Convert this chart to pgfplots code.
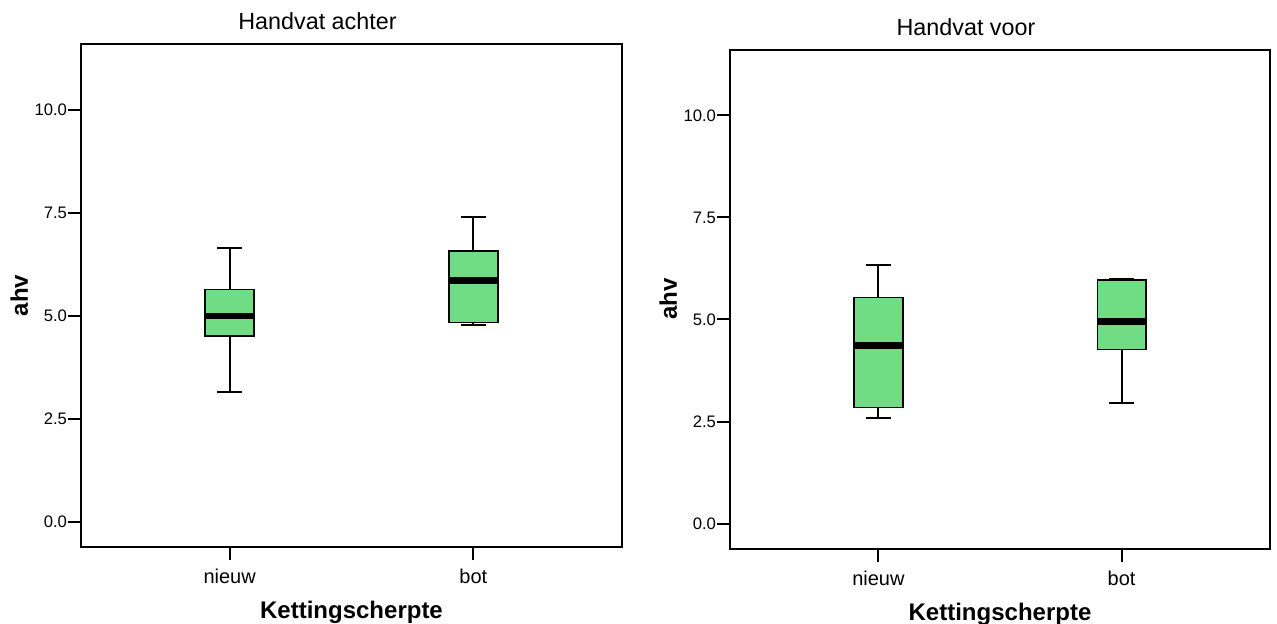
\documentclass[border=0pt]{standalone}
\usepackage{fontspec}
\setmainfont{Liberation Sans}
\usepackage{pgfplots}
\usepgfplotslibrary{statistics}
\pgfplotsset{compat=1.18}
\definecolor{boxgreen}{RGB}{112,221,133}
\pgfplotsset{
  myaxis/.style={
    scale only axis,
    xmin=0.39, xmax=2.61, ymin=-0.615, ymax=11.61,
    xtick={1,2}, xticklabels={nieuw,bot},
    ytick={0,2.5,5,7.5,10},
    yticklabel style={/pgf/number format/fixed, /pgf/number format/fixed zerofill, /pgf/number format/precision=1, /pgf/number format/assume math mode=true},
    tick align=outside, major tick length=10pt,
    tick pos=left,
    axis line style={line width=1.5pt},
    major tick style={black, line width=1.5pt},
    xticklabel style={font=\fontsize{15}{18}\selectfont, yshift=-3pt},
    yticklabel style={font=\fontsize{12.5}{15}\selectfont, xshift=3pt},
    xlabel={Kettingscherpte}, ylabel={ahv},
    xlabel style={font=\bfseries\fontsize{18}{21}\selectfont, yshift=-6.5pt},
    ylabel style={font=\bfseries\fontsize{18}{21}\selectfont, yshift=-2pt},
    title style={font=\fontsize{17.5}{21}\selectfont, xshift=-25.5pt, yshift=1pt},
    boxplot/draw direction=y,
    boxplot/every whisker/.style={black, line width=1.5pt},
    boxplot/every median/.style={black, line width=5pt},
    boxplot/box extend=0.2,
    boxplot/whisker extend=0.1,
  },
  mybox/.style={fill=boxgreen, draw=black, line width=1.2pt}
}
\begin{document}
\begin{tikzpicture}
\useasboundingbox (0,0) rectangle (957.75pt,468pt);
\begin{axis}[myaxis, at={(60.75pt,57.75pt)}, anchor=south west,
  width=405.75pt, height=377.25pt, title={Handvat achter}]
\addplot[mybox, boxplot prepared={draw position=1,
  lower whisker=3.16, lower quartile=4.51, median=5.00,
  upper quartile=5.64, upper whisker=6.66}] coordinates {};
\addplot[mybox, boxplot prepared={draw position=2,
  lower whisker=4.78, lower quartile=4.84, median=5.87,
  upper quartile=6.58, upper whisker=7.41}] coordinates {};
\end{axis}
\begin{axis}[myaxis, at={(547.5pt,56.5pt)}, anchor=south west,
  width=405pt, height=374.25pt, title={Handvat voor}]
\addplot[mybox, boxplot prepared={draw position=1,
  lower whisker=2.59, lower quartile=2.84, median=4.37,
  upper quartile=5.54, upper whisker=6.34}] coordinates {};
\addplot[mybox, boxplot prepared={draw position=2,
  lower whisker=2.95, lower quartile=4.26, median=4.95,
  upper quartile=5.96, upper whisker=5.98}] coordinates {};
\end{axis}
\end{tikzpicture}
\end{document}
